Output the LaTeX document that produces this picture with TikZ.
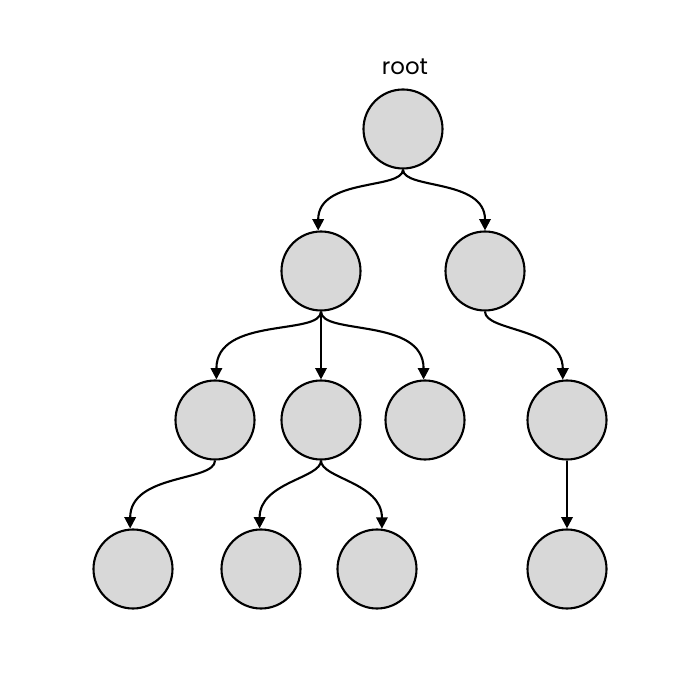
\documentclass[tikz,border=0pt]{standalone}
\usepackage{fontspec}
\setmainfont{Poppins}
\usetikzlibrary{arrows.meta}
\definecolor{nodegray}{RGB}{216,216,216}
\begin{document}
\begin{tikzpicture}[->, >={Triangle[length=6.5pt,width=6.5pt]}, line width=1.2pt,
        vertex/.style={circle, draw, fill=nodegray, minimum size=1.58cm, inner sep=0pt},
        branch/.style={out=-90, in=90, out looseness=0.5, in looseness=1.3}]
         \useasboundingbox (0,0) rectangle (14,14);
         %nodes
         \node[vertex] at (8.06,11.42) (root) {};
         \node[font=\fontsize{13}{15}\selectfont] at (8.1,12.66) (rootlabel) {root};
         \node[vertex] at (6.42,8.58) (l) {};
         \node[vertex] at (9.70,8.58) (r) {};
         \node[vertex] at (4.30,5.60) (ll) {};
         \node[vertex] at (6.42,5.60) (lm) {};
         \node[vertex] at (8.50,5.60) (lr) {};
         \node[vertex] at (11.34,5.60) (rr) {};
         \node[vertex] at (2.66,2.62) (lll) {};
         \node[vertex] at (5.22,2.62) (lml) {};
         \node[vertex] at (7.54,2.62) (lmr) {};
         \node[vertex] at (11.34,2.62) (rrr) {};
         \path
             (root.south) edge[branch] (l.94)
             (root.south) edge[branch] (r.north)
             (l.south) edge[branch] (ll.88)
             (l.south) edge (lm.north)
             (l.south) edge[branch] (lr.92)
             (r.south) edge[branch] (rr.96)
             (ll.south) edge[branch] (lll.94)
             (lm.south) edge[branch] (lml.92)
             (lm.south) edge[branch] (lmr.83)
             (rr.south) edge (rrr.north);
    \end{tikzpicture}
\end{document}
